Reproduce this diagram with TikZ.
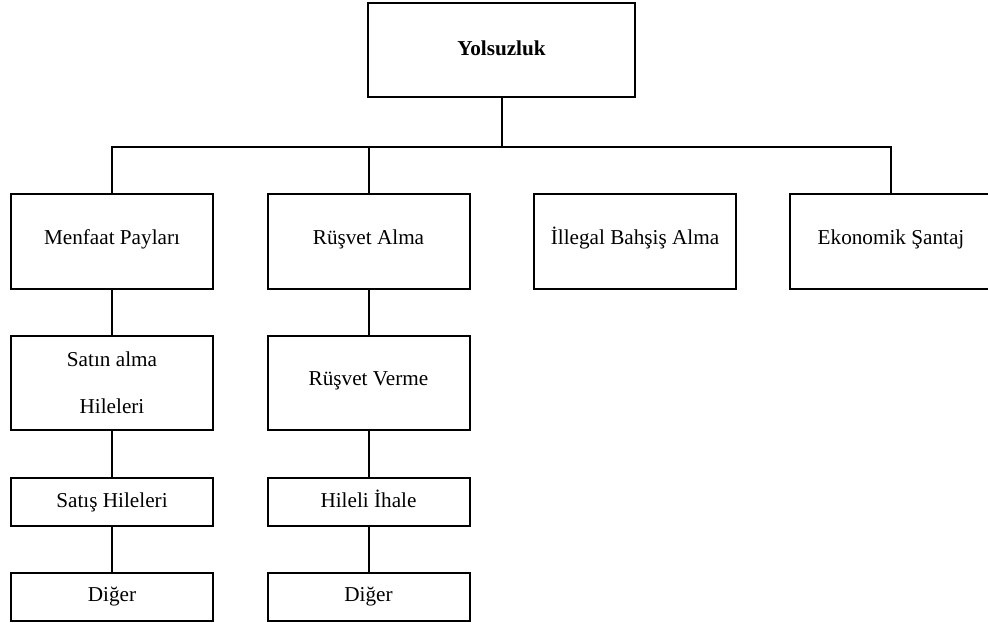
\documentclass[tikz,border=0pt]{standalone}
\usepackage{fontspec}
\setmainfont{Liberation Serif}
\usepackage{tikz}
\tikzstyle{box} = [draw=black, line width=1pt, inner sep=0pt, minimum width=101pt, minimum height=47.5pt, font={\fontsize{10.6}{12}\selectfont}]
\tikzstyle{low} = [minimum height=24pt]
\tikzstyle{wide} = [align=center, font={\fontsize{10.6}{23.5}\selectfont}]
\tikzstyle{link} = [draw=black, line width=1pt]

\begin{document}
\begin{tikzpicture}[x=0.5pt,y=-0.5pt]
  \useasboundingbox (0,0) rectangle (988,622);
  \clip (0,0) rectangle (988,622);
  \node[box,minimum width=133.5pt,minimum height=47pt,font={\fontsize{10.6}{12}\selectfont\bfseries}](yol) at (501.5,50){\raisebox{2pt}{Yolsuzluk}};
  \node[box](menfaat) at (112,241.5){\raisebox{4pt}{Menfaat Payları}};
  \node[box](ralma) at (368.5,241.5){\raisebox{4pt}{Rüşvet Alma}};
  \node[box](bahsis) at (635,241.5){\raisebox{4pt}{\smash{İ}llegal Bahşiş Alma}};
  \node[box](santaj) at (891,241.5){\raisebox{4pt}{Ekonomik Şantaj}};
  \node[box,wide,minimum height=47pt](satin) at (112,383){Satın alma\\Hileleri};
  \node[box,minimum height=47pt](rverme) at (368.5,383){\raisebox{4pt}{Rüşvet Verme}};
  \node[box,low](satis) at (112,502){\raisebox{2pt}{Satış Hileleri}};
  \node[box,low](ihale) at (368.5,502){\raisebox{2pt}{Hileli \smash{İ}hale}};
  \node[box,low](diger1) at (112,597){\raisebox{2pt}{Diğer}};
  \node[box,low](diger2) at (368.5,597){\raisebox{2pt}{Diğer}};
  \coordinate (bus) at (501.5,146.5);
  \draw[link](yol)--(bus);
  \draw[link](menfaat.north)|-(bus)-|(santaj.north);
  \draw[link](ralma.north)--(ralma.north|-bus);
  \draw[link](menfaat)--(satin);
  \draw[link](satin)--(satis);
  \draw[link](satis)--(diger1);
  \draw[link](ralma)--(rverme);
  \draw[link](rverme)--(ihale);
  \draw[link](ihale)--(diger2);
\end{tikzpicture}
\end{document}
